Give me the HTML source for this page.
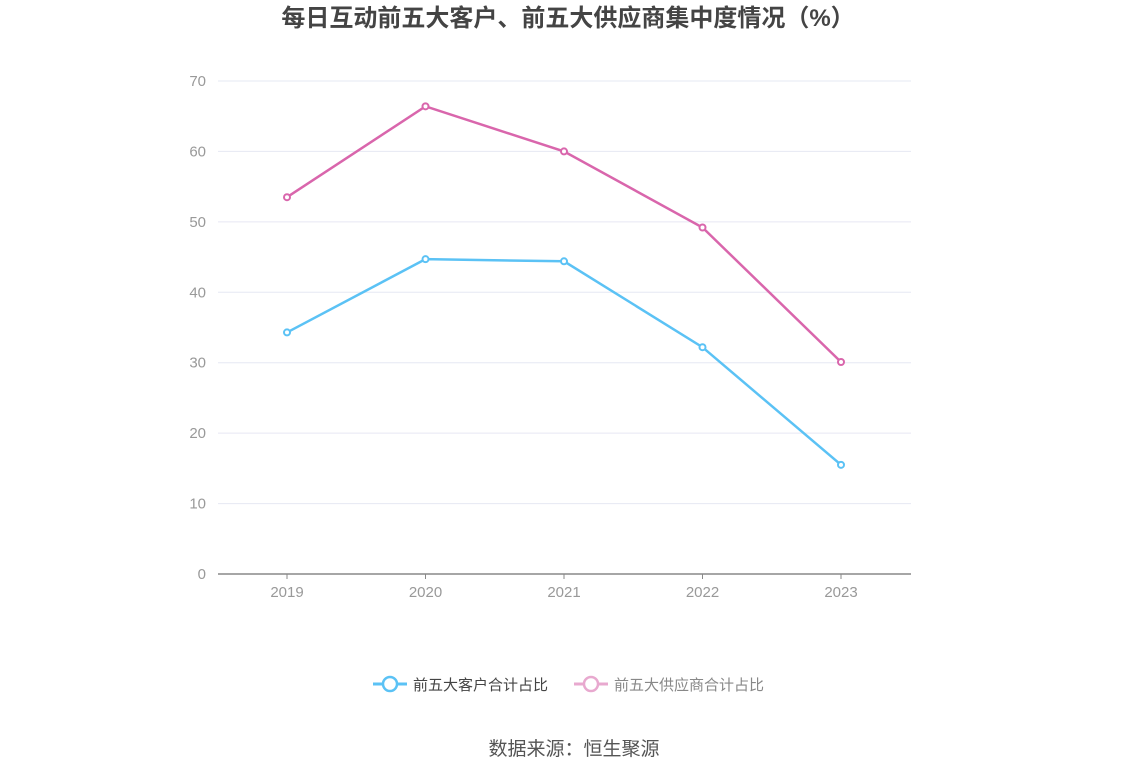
<!DOCTYPE html>
<html><head><meta charset="utf-8">
<style>
body{margin:0;background:#fff;width:1148px;height:776px;overflow:hidden;font-family:"Liberation Sans","Noto Sans CJK SC",sans-serif;}
svg text{font-family:"Liberation Sans","Noto Sans CJK SC",sans-serif;}
</style></head>
<body>
<svg id="chart" width="1148" height="776">
<text x="568" y="26" text-anchor="middle" font-size="24" font-weight="bold" fill="#444">每日互动前五大客户、前五大供应商集中度情况（%）</text>
<g id="grid"></g>
<g id="series"></g>
<g>
<g>
<line x1="373" y1="684" x2="407" y2="684" stroke="#5bc2f5" stroke-width="3"/>
<circle cx="390" cy="684" r="7" fill="#fff" stroke="#5bc2f5" stroke-width="2.5"/>
<text x="413" y="690" font-size="15" fill="#444">前五大客户合计占比</text>
</g>
<g>
<line x1="574" y1="684" x2="608" y2="684" stroke="#e8a9cf" stroke-width="3"/>
<circle cx="591" cy="684" r="7" fill="#fff" stroke="#e8a9cf" stroke-width="2.5"/>
<text x="614" y="690" font-size="15" fill="#888">前五大供应商合计占比</text>
</g>
</g>
<text x="574" y="755" text-anchor="middle" font-size="19" fill="#555">数据来源：恒生聚源</text>
</svg>
<script>
const categories=["2019","2020","2021","2022","2023"];
const customers=[34.3,44.7,44.4,32.2,15.5];
const suppliers=[53.5,66.4,60.0,49.2,30.1];
const yTicks=[0,10,20,30,40,50,60,70];
const NS="http://www.w3.org/2000/svg";
const x0=218,x1=911,yBase=574,yTop=81,yMax=70;
const xs=i=>287+i*(841-287)/(categories.length-1);
const ys=v=>yBase-v*(yBase-yTop)/yMax;
function mk(t,a,p){const e=document.createElementNS(NS,t);for(const k in a)e.setAttribute(k,a[k]);p.appendChild(e);return e;}
const grid=document.getElementById('grid');
yTicks.forEach(v=>{
 const l=mk('line',{x1:x0,x2:x1,y1:ys(v),y2:ys(v),stroke:v===0?'#888':'#e6e8f3','stroke-width':v===0?1.5:1},grid);
 
 
 const t=mk('text',{x:206,y:ys(v)+5,'text-anchor':'end','font-size':15,fill:'#999'},grid);
 t.textContent=v;
 
 
});
categories.forEach((c,i)=>{
 const tk=mk('line',{x1:xs(i),x2:xs(i),y1:yBase,y2:yBase+5,stroke:'#888'},grid);
 
 
 const t=mk('text',{x:xs(i),y:597,'text-anchor':'middle','font-size':15,fill:'#999'},grid);
 t.textContent=c;
 
 
});
const sg=document.getElementById('series');
[[customers,'#5bc2f5','customers'],[suppliers,'#d966ac','suppliers']].forEach(([d,col,n])=>{
 const p=mk('polyline',{points:d.map((v,i)=>xs(i)+','+ys(v)).join(' '),fill:'none',stroke:col,'stroke-width':2.5},sg);
 
 
 d.forEach((v,i)=>{
  const c=mk('circle',{cx:xs(i),cy:ys(v),r:3,fill:'#fff',stroke:col,'stroke-width':2},sg);
  
  
 });
});
</script>
</body></html>
